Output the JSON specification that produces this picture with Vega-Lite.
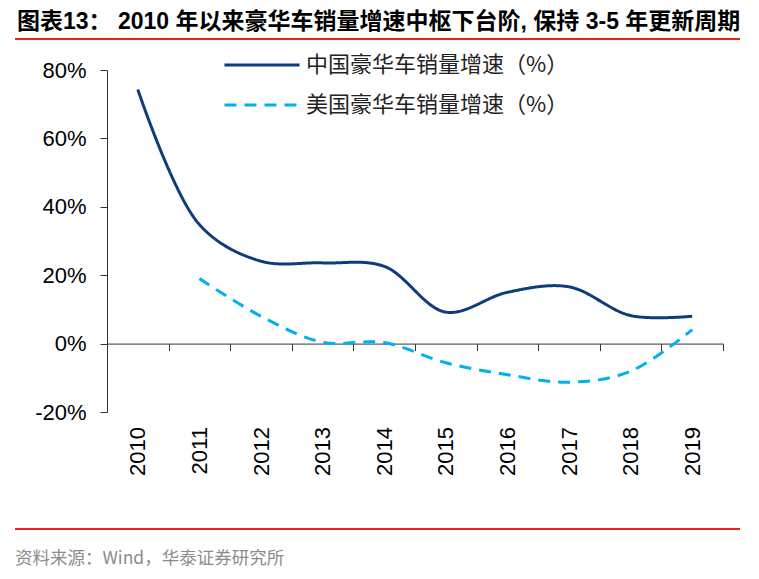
{
  "$schema": "https://vega.github.io/schema/vega-lite/v6.json",
  "background": "white",
  "padding": {"left": 4, "right": 5, "top": 11, "bottom": 5},
  "config": {
    "view": {"stroke": null},
    "font": "Liberation Sans, Noto Sans CJK SC"
  },
  "title": {
    "text": "图表13：    2010 年以来豪华车销量增速中枢下台阶, 保持  3-5 年更新周期",
    "anchor": "start",
    "dx": 13,
    "fontSize": 23,
    "font": "Liberation Sans, Noto Sans CJK SC",
    "fontWeight": "bold",
    "color": "#000000",
    "offset": -13
  },
  "spacing": 52,
  "vconcat": [
    {
      "spacing": 19,
      "vconcat": [
        {
          "data": {"values": []},
          "mark": "point",
          "width": 725,
          "height": 2,
          "view": {"fill": "#e3231b", "stroke": null}
        },
        {
          "data": {
            "values": [
              {"year": "2010", "series": "中国豪华车销量增速（%）", "value": 74.3},
              {"year": "2011", "series": "中国豪华车销量增速（%）", "value": 34.8},
              {"year": "2012", "series": "中国豪华车销量增速（%）", "value": 24.1},
              {"year": "2013", "series": "中国豪华车销量增速（%）", "value": 23.6},
              {"year": "2014", "series": "中国豪华车销量增速（%）", "value": 22.6},
              {"year": "2015", "series": "中国豪华车销量增速（%）", "value": 9.2},
              {"year": "2016", "series": "中国豪华车销量增速（%）", "value": 15.0},
              {"year": "2017", "series": "中国豪华车销量增速（%）", "value": 16.6},
              {"year": "2018", "series": "中国豪华车销量增速（%）", "value": 8.2},
              {"year": "2019", "series": "中国豪华车销量增速（%）", "value": 8.0},
              {"year": "2011", "series": "美国豪华车销量增速（%）", "value": 19.0},
              {"year": "2012", "series": "美国豪华车销量增速（%）", "value": 8.0},
              {"year": "2013", "series": "美国豪华车销量增速（%）", "value": 0.4},
              {"year": "2014", "series": "美国豪华车销量增速（%）", "value": 0.3},
              {"year": "2015", "series": "美国豪华车销量增速（%）", "value": -5.6},
              {"year": "2016", "series": "美国豪华车销量增速（%）", "value": -9.1},
              {"year": "2017", "series": "美国豪华车销量增速（%）", "value": -11.3},
              {"year": "2018", "series": "美国豪华车销量增速（%）", "value": -8.1},
              {"year": "2019", "series": "美国豪华车销量增速（%）", "value": 4.1}
            ]
          },
          "width": 725,
          "height": 342,
          "mark": {"type": "line", "interpolate": "catmull-rom", "strokeWidth": 3},
          "encoding": {
            "x": {
              "field": "year",
              "type": "ordinal",
              "scale": {"type": "band", "range": [92, 708], "paddingInner": 0, "paddingOuter": 0},
              "axis": {
                "title": null,
                "offset": -68.4,
                "tickBand": "extent",
                "tickSize": 7,
                "tickColor": "#333333",
                "domainColor": "#333333",
                "labelAngle": -90,
                "labelAlign": "right",
                "labelBaseline": "middle",
                "labelPadding": 76,
                "labelFontSize": 22,
                "labelColor": "#000000",
                "labelFont": "Liberation Sans"
              }
            },
            "y": {
              "field": "value",
              "type": "quantitative",
              "scale": {"domain": [-20, 80], "nice": false},
              "axis": {
                "title": null,
                "offset": -92,
                "values": [-20, 0, 20, 40, 60, 80],
                "labelExpr": "datum.value + '%'",
                "grid": false,
                "tickSize": 7,
                "tickColor": "#333333",
                "domainColor": "#333333",
                "labelPadding": 14,
                "labelFontSize": 22,
                "labelColor": "#000000",
                "labelFont": "Liberation Sans"
              }
            },
            "color": {
              "field": "series",
              "type": "nominal",
              "scale": {
                "domain": ["中国豪华车销量增速（%）", "美国豪华车销量增速（%）"],
                "range": ["#0d3c7c", "#00b0f0"]
              },
              "legend": {
                "title": null,
                "orient": "none",
                "legendX": 203,
                "legendY": -17,
                "padding": 33,
                "symbolType": "M-4,0L4,0",
                "symbolSize": 352,
                "symbolStrokeWidth": 3,
                "labelFontSize": 22,
                "labelFont": "Noto Sans CJK SC",
                "labelColor": "#222222",
                "labelOffset": 33,
                "rowPadding": 18,
                "labelLimit": 400
              }
            },
            "strokeDash": {
              "field": "series",
              "type": "nominal",
              "scale": {
                "domain": ["中国豪华车销量增速（%）", "美国豪华车销量增速（%）"],
                "range": [[1, 0], [12, 8]]
              },
              "legend": {
                "title": null,
                "orient": "none",
                "legendX": 203,
                "legendY": -17,
                "padding": 33,
                "symbolType": "M-4,0L4,0",
                "symbolSize": 352,
                "symbolStrokeWidth": 3,
                "labelFontSize": 22,
                "labelFont": "Noto Sans CJK SC",
                "labelColor": "#222222",
                "labelOffset": 33,
                "rowPadding": 18,
                "labelLimit": 400
              }
            }
          }
        }
      ]
    },
    {
      "data": {"values": []},
      "mark": "point",
      "width": 725,
      "height": 2,
      "view": {"fill": "#e3231b", "stroke": null},
      "title": {
        "text": "资料来源：Wind，华泰证券研究所",
        "orient": "bottom",
        "anchor": "start",
        "fontSize": 17.5,
        "fontWeight": "normal",
        "font": "Noto Sans CJK SC",
        "color": "#8c8c8c",
        "offset": 20
      }
    }
  ]
}
